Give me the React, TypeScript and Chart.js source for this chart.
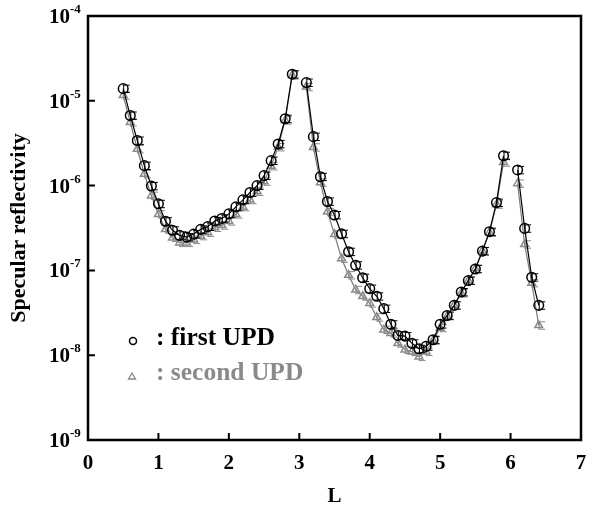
import React, { useEffect, useRef } from "react";
import { Chart, registerables } from "chart.js";
Chart.register(...registerables);

// L values for the three measured segments (Bragg peaks at L=3 and L=6 skipped)
const L_SEG1 = [0.5, 0.6, 0.7, 0.8, 0.9, 1.0, 1.1, 1.2, 1.3, 1.4, 1.5, 1.6, 1.7, 1.8, 1.9, 2.0, 2.1, 2.2, 2.3, 2.4, 2.5, 2.6, 2.7, 2.8, 2.9];
const L_SEG2 = [3.1, 3.2, 3.3, 3.4, 3.5, 3.6, 3.7, 3.8, 3.9, 4.0, 4.1, 4.2, 4.3, 4.4, 4.5, 4.6, 4.7, 4.8, 4.9, 5.0, 5.1, 5.2, 5.3, 5.4, 5.5, 5.6, 5.7, 5.8, 5.9];
const L_SEG3 = [6.1, 6.2, 6.3, 6.4];

// first UPD (open circles)
const FIRST_SEG1 = [1.39e-5, 6.7e-6, 3.4e-6, 1.72e-6, 9.9e-7, 6.1e-7, 3.8e-7, 2.97e-7, 2.59e-7, 2.47e-7, 2.68e-7, 3.05e-7, 3.28e-7, 3.83e-7, 4.1e-7, 4.64e-7, 5.61e-7, 6.79e-7, 8.29e-7, 1.0e-6, 1.31e-6, 1.97e-6, 3.1e-6, 6.14e-6, 2.06e-5];
const FIRST_SEG2 = [1.64e-5, 3.78e-6, 1.27e-6, 6.5e-7, 4.5e-7, 2.7e-7, 1.66e-7, 1.15e-7, 8.2e-8, 6.1e-8, 4.95e-8, 3.54e-8, 2.32e-8, 1.71e-8, 1.68e-8, 1.38e-8, 1.19e-8, 1.27e-8, 1.52e-8, 2.32e-8, 2.94e-8, 3.87e-8, 5.56e-8, 7.59e-8, 1.04e-7, 1.69e-7, 2.86e-7, 6.3e-7, 2.25e-6];
const FIRST_SEG3 = [1.53e-6, 3.13e-7, 8.3e-8, 3.87e-8];

// second UPD (grey triangles)
const SECOND_SEG1 = [1.16e-5, 5.6e-6, 2.7e-6, 1.37e-6, 7.6e-7, 4.6e-7, 3.05e-7, 2.43e-7, 2.12e-7, 2.12e-7, 2.3e-7, 2.55e-7, 2.8e-7, 3.2e-7, 3.4e-7, 3.8e-7, 4.6e-7, 5.6e-7, 6.8e-7, 8.5e-7, 1.12e-6, 1.7e-6, 2.85e-6, 5.9e-6, 2.0e-5];
const SECOND_SEG2 = [1.46e-5, 2.83e-6, 1.09e-6, 4.9e-7, 2.66e-7, 1.38e-7, 8.8e-8, 5.9e-8, 4.95e-8, 4.1e-8, 2.8e-8, 2.0e-8, 1.82e-8, 1.38e-8, 1.16e-8, 1.1e-8, 9.6e-9, 1.1e-8, 1.5e-8, 2.1e-8, 2.9e-8, 3.9e-8, 5.4e-8, 7.6e-8, 1.05e-7, 1.7e-7, 2.8e-7, 6.0e-7, 1.88e-6];
const SECOND_SEG3 = [1.06e-6, 2.03e-7, 7.1e-8, 2.25e-8];

const X_TICKS = [0, 1, 2, 3, 4, 5, 6, 7];
const Y_EXPONENTS = [-9, -8, -7, -6, -5, -4];
const REL_ERR = 0.1;

const SERIF = '"Liberation Serif", "Times New Roman", serif';
const GREY = "#8a8a8a";

function buildPoints(ls: number[][], vs: number[][]) {
  const pts: { x: number; y: number | null }[] = [];
  ls.forEach((seg, i) => {
    if (i > 0) {
      const prev = ls[i - 1];
      pts.push({ x: (prev[prev.length - 1] + seg[0]) / 2, y: null });
    }
    seg.forEach((x, j) => pts.push({ x, y: vs[i][j] }));
  });
  return pts;
}

const errorBarPlugin = {
  id: "errbars",
  afterDatasetDraw(chart: any, args: any) {
    const ctx = chart.ctx;
    const ys = chart.scales.y;
    const meta = args.meta;
    const ds = chart.data.datasets[args.index];
    ctx.save();
    ctx.strokeStyle = args.index === 0 ? "#000" : GREY;
    ctx.lineWidth = 1;
    meta.data.forEach((el: any, i: number) => {
      const v = ds.data[i].y;
      if (v == null) return;
      const x = el.x + 0.5;
      const y1 = ys.getPixelForValue(v * (1 + REL_ERR));
      const y2 = ys.getPixelForValue(v * (1 - REL_ERR));
      ctx.beginPath();
      ctx.moveTo(x, y1);
      ctx.lineTo(x, y2);
      ctx.moveTo(x - 1, y1);
      ctx.lineTo(x + 6, y1);
      ctx.moveTo(x - 1, y2);
      ctx.lineTo(x + 6, y2);
      ctx.stroke();
    });
    ctx.restore();
  },
};

const framePlugin = {
  id: "frame",
  afterDraw(chart: any) {
    const ctx = chart.ctx;
    const { left, right, top, bottom } = chart.chartArea;
    const xs = chart.scales.x;
    const ys = chart.scales.y;
    ctx.save();
    ctx.strokeStyle = "#000";
    ctx.lineWidth = 2.5;
    ctx.strokeRect(left, top, right - left, bottom - top);
    ctx.lineWidth = 2;
    ctx.beginPath();
    X_TICKS.forEach((t) => {
      if (t === X_TICKS[0] || t === X_TICKS[X_TICKS.length - 1]) return;
      const x = xs.getPixelForValue(t);
      ctx.moveTo(x, bottom);
      ctx.lineTo(x, bottom - 7);
    });
    Y_EXPONENTS.forEach((e) => {
      if (e === Y_EXPONENTS[0] || e === Y_EXPONENTS[Y_EXPONENTS.length - 1]) return;
      const y = ys.getPixelForValue(Math.pow(10, e));
      ctx.moveTo(left, y);
      ctx.lineTo(left + 7, y);
    });
    ctx.stroke();

    ctx.fillStyle = "#000";
    ctx.font = `bold 21px ${SERIF}`;
    ctx.textAlign = "center";
    ctx.textBaseline = "middle";
    X_TICKS.forEach((t) => {
      ctx.fillText(String(t), xs.getPixelForValue(t), bottom + 24);
    });
    ctx.fillText("L", (left + right) / 2, bottom + 57);

    Y_EXPONENTS.forEach((e) => {
      const y = ys.getPixelForValue(Math.pow(10, e));
      ctx.font = `bold 21px ${SERIF}`;
      ctx.textAlign = "right";
      ctx.textBaseline = "alphabetic";
      ctx.fillText("10", left - 18, y + 7);
      ctx.font = `bold 13px ${SERIF}`;
      ctx.textAlign = "left";
      ctx.fillText(String(e), left - 18, y - 3);
    });

    ctx.save();
    ctx.translate(19, (top + bottom) / 2);
    ctx.rotate(-Math.PI / 2);
    ctx.font = `bold 22px ${SERIF}`;
    ctx.textAlign = "center";
    ctx.textBaseline = "middle";
    ctx.fillText("Specular reflectivity", 0, 0);
    ctx.restore();

    // legend
    ctx.lineWidth = 1.5;
    ctx.strokeStyle = "#000";
    ctx.beginPath();
    ctx.arc(133, 341, 3.5, 0, Math.PI * 2);
    ctx.stroke();
    ctx.font = `bold 25.5px ${SERIF}`;
    ctx.textAlign = "left";
    ctx.textBaseline = "alphabetic";
    ctx.fillStyle = "#000";
    ctx.fillText(": first UPD", 156, 345);
    ctx.strokeStyle = GREY;
    ctx.lineWidth = 1.3;
    ctx.beginPath();
    ctx.moveTo(132, 373);
    ctx.lineTo(135.5, 379);
    ctx.lineTo(128.5, 379);
    ctx.closePath();
    ctx.stroke();
    ctx.fillStyle = GREY;
    ctx.fillText(": second UPD", 156, 380);
    ctx.restore();
  },
};

export default function App() {
  const ref = useRef<HTMLCanvasElement | null>(null);
  useEffect(() => {
    if (!ref.current) return;
    const ls = [L_SEG1, L_SEG2, L_SEG3];
    const chart = new Chart(ref.current, {
      type: "line",
      data: {
        datasets: [
          {
            label: "first UPD",
            data: buildPoints(ls, [FIRST_SEG1, FIRST_SEG2, FIRST_SEG3]) as any,
            borderColor: "#000",
            borderWidth: 1.2,
            pointStyle: "circle",
            pointRadius: 4.8,
            pointBorderWidth: 1.5,
            pointBorderColor: "#000",
            pointBackgroundColor: "rgba(0,0,0,0)",
            spanGaps: false,
            tension: 0,
          },
          {
            label: "second UPD",
            data: buildPoints(ls, [SECOND_SEG1, SECOND_SEG2, SECOND_SEG3]) as any,
            borderColor: "#7a7a7a",
            borderWidth: 1.2,
            pointStyle: "triangle",
            pointRadius: 4.5,
            pointBorderWidth: 1.5,
            pointBorderColor: GREY,
            pointBackgroundColor: "rgba(0,0,0,0)",
            spanGaps: false,
            tension: 0,
          },
        ],
      },
      options: {
        animation: false,
        responsive: true,
        maintainAspectRatio: false,
        layout: { padding: { left: 88, right: 13, top: 16, bottom: 70 } },
        plugins: { legend: { display: false }, tooltip: { enabled: false } },
        scales: {
          x: { type: "linear", min: 0, max: 7, display: false },
          y: { type: "logarithmic", min: 1e-9, max: 1e-4, display: false },
        },
      },
      plugins: [errorBarPlugin, framePlugin],
    });
    return () => chart.destroy();
  }, []);
  return (
    <div style={{ position: "fixed", left: 0, top: 0, width: 594, height: 510, background: "#fff" }}>
      <canvas ref={ref} />
    </div>
  );
}
